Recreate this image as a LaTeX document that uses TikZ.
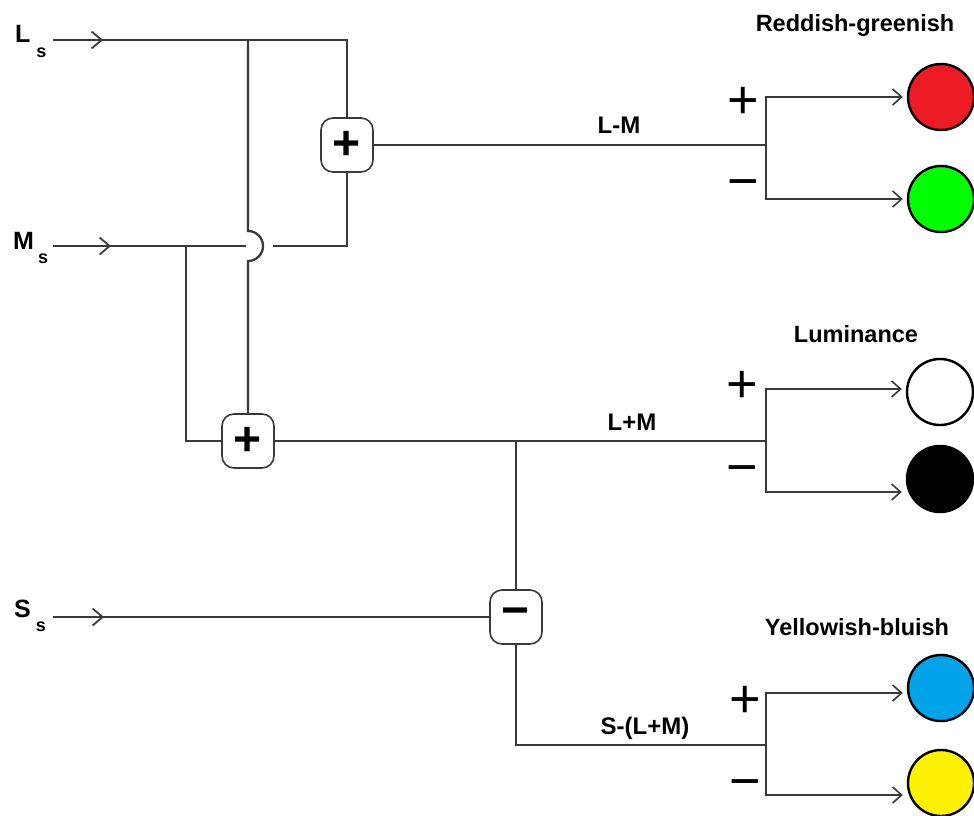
\documentclass[tikz,border=0pt]{standalone}
\usepackage{fontspec}
\setmainfont{Liberation Sans}
\usetikzlibrary{arrows.meta,positioning}
\definecolor{cwire}{HTML}{3A3A3A}
\definecolor{cred}{HTML}{ED1C24}
\definecolor{cgreen}{HTML}{00FF00}
\definecolor{cblue}{HTML}{00A2E8}
\definecolor{cyellow}{HTML}{FFF200}

\begin{document}
\begin{tikzpicture}[x=1pt, y=-1pt,
    wire/.style={cwire, line width=2.3pt},
    feed/.style={cwire, line width=2.3pt, -{Straight Barb[length=10pt, width=17pt, line width=1.8pt]}},
    branch/.style={cwire, line width=1.8pt, -{Straight Barb[length=9pt, width=16pt, line width=1.6pt]}},
    op/.style={draw=cwire, line width=1.6pt, rounded corners=12pt, fill=white,
      minimum width=52pt, minimum height=54pt, inner sep=0pt,
      font=\bfseries\fontsize{48}{48}\selectfont},
    dot/.style={circle, draw=black, line width=2.4pt, minimum size=66pt, inner sep=0pt},
    inlab/.style={font=\bfseries\fontsize{25}{25}\selectfont, anchor=base west, inner sep=0pt},
    chan/.style={font=\bfseries\fontsize{24}{24}\selectfont, inner sep=0pt},
    head/.style={font=\bfseries\fontsize{23.5}{24}\selectfont, inner sep=0pt},
    sgn/.style={font=\fontsize{54}{54}\selectfont, inner sep=0pt}]
  \useasboundingbox (0,0) rectangle (974,816);

  % inputs
  \node[inlab] (Ls) at (15,43) {L\hspace{6pt}\raisebox{-14pt}{\fontsize{18}{18}\selectfont s}};
  \node[inlab] (Ms) at (13,249) {M\hspace{4pt}\raisebox{-14pt}{\fontsize{18}{18}\selectfont s}};
  \node[inlab] (Ss) at (14,617) {S\hspace{5pt}\raisebox{-14pt}{\fontsize{18}{18}\selectfont s}};
  \coordinate (Lin) at (53,40);
  \coordinate (Min) at (53,246);
  \coordinate (Sin) at (53,617);
  \coordinate (Ltip) at (103,40);
  \coordinate (Mtip) at (111,246);
  \coordinate (Stip) at (104,617);

  % opponent stages
  \node[op] (addA) at (347,145) {+};
  \node[op] (addB) at (248,441) {+};
  \node[op] (subC) at (516,617) {−};

  % junctions
  \coordinate (Ljn) at (248,40);
  \coordinate (Lcorner) at (347,40);
  \coordinate (hopT) at (248,231);
  \coordinate (hopL) at (246,246);
  \coordinate (hopR) at (273,246);
  \coordinate (Mcorner) at (347,246);
  \coordinate (Mjn) at (186,246);
  \coordinate (Mlow) at (186,441);
  \coordinate (Bjn) at (516,441);
  \coordinate (Clow) at (516,745);

  % split points
  \coordinate (splitA) at (766,145);
  \coordinate (splitB) at (766,441);
  \coordinate (splitC) at (766,745);

  % outputs
  \node[dot, fill=cred] (red) at (941,97) {};
  \node[dot, fill=cgreen] (green) at (941,199) {};
  \node[dot, fill=white] (white) at (940,392) {};
  \node[dot, fill=black] (black) at (940,479) {};
  \node[dot, fill=cblue] (blue) at (941,688) {};
  \node[dot, fill=cyellow] (yellow) at (941,783) {};

  \node[head] (hA) at (855,25) {Reddish-greenish};
  \node[head] (hB) at (856,334) {Luminance};
  \node[head] (hC) at (857,627) {Yellowish-bluish};

  \node[chan] (cA) at (619,125) {L-M};
  \node[chan] (cB) at (632,422) {L+M};
  \node[chan] (cC) at (645,728) {S-(L+M)};

  \node[sgn] (pA) at (743,103) {+};
  \node[sgn] (mA) at (743,190) {−};
  \node[sgn] (pB) at (742,387) {+};
  \node[sgn] (mB) at (742,476) {−};
  \node[sgn] (pC) at (745,702) {+};
  \node[sgn] (mC) at (745,790) {−};

  % wiring
  \draw[wire] (Lin) -- (Lcorner) -- (addA.north);
  \draw[feed] (Lin) -- (Ltip);
  \draw[wire] (Ljn) -- (hopT) arc[start angle=-90, end angle=90, radius=15] -- (addB.north);
  \draw[wire] (Min) -- (hopL);
  \draw[feed] (Min) -- (Mtip);
  \draw[wire] (hopR) -- (Mcorner) -- (addA.south);
  \draw[wire] (Mjn) -- (Mlow) -- (addB.west);
  \draw[wire] (Sin) -- (subC.west);
  \draw[feed] (Sin) -- (Stip);

  \draw[wire] (addA.east) -- (splitA);
  \draw[wire] (addB.east) -- (splitB);
  \draw[wire] (Bjn) -- (subC.north);
  \draw[wire] (subC.south) -- (Clow) -- (splitC);

  \draw[branch] (splitA) |- ([xshift=-4pt]red.west);
  \draw[branch] (splitA) |- ([xshift=-4pt]green.west);
  \draw[branch] (splitB) |- ([xshift=-4pt,yshift=3pt]white.west);
  \draw[branch] (splitB) |- ([xshift=-4pt,yshift=-13pt]black.west);
  \draw[branch] (splitC) |- ([xshift=-4pt,yshift=-5pt]blue.west);
  \draw[branch] (splitC) |- ([xshift=-4pt,yshift=-12pt]yellow.west);
\end{tikzpicture}
\end{document}
